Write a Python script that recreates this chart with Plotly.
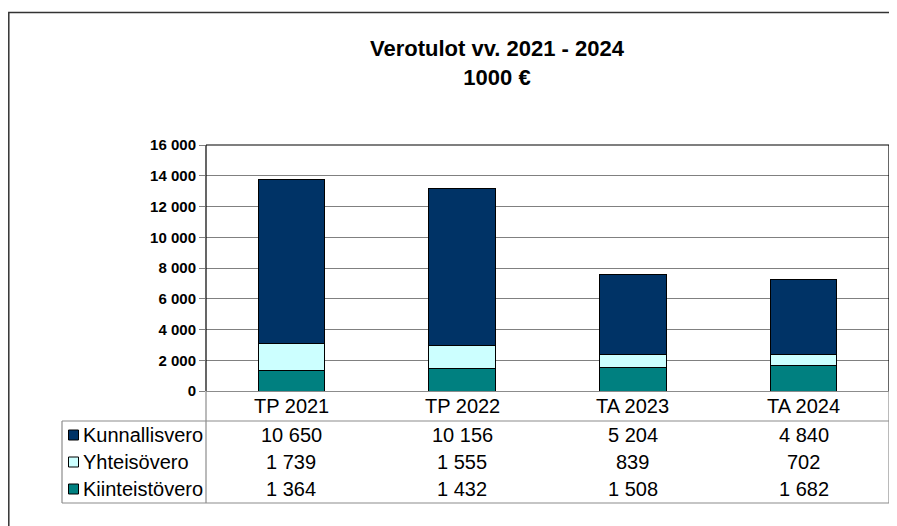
"""Verotulot vv. 2021 - 2024 — pinottu pylväs + taulukko."""

import plotly.graph_objects as go

categories = ["TP 2021", "TP 2022", "TA 2023", "TA 2024"]
kunnallisvero = [10650, 10156, 5204, 4840]
yhteisovero = [1739, 1555, 839, 702]
kiinteistovero = [1364, 1432, 1508, 1682]

series = [
    ("Kiinteistövero", kiinteistovero, "#008080"),
    ("Yhteisövero", yhteisovero, "#CCFFFF"),
    ("Kunnallisvero", kunnallisvero, "#003366"),
]
table_rows = ["Kunnallisvero", "Yhteisövero", "Kiinteistövero"]

# page body has an 8px margin, so figure is drawn 8px smaller
OFF = 8
W, H = 897 - OFF, 526 - OFF
L, R, T, B = 206 - OFF, 889 - OFF, 145 - OFF, 391 - OFF  # plot area (figure px)
FONT = "Liberation Sans, Arial, sans-serif"


def px(x):
    """window x pixel -> paper"""
    return (x - OFF - L) / (R - L)


def py(y):
    """window y pixel -> paper"""
    return (B - (y - OFF)) / (B - T)


def fmt(v):
    return f"{v:,}".replace(",", " ")


fig = go.Figure()
for name, vals, color in series:
    fig.add_trace(
        go.Bar(
            x=categories,
            y=vals,
            name=name,
            marker=dict(color=color, line=dict(color="#000000", width=1)),
            width=0.39,
            showlegend=False,
        )
    )

shapes = []
annotations = []

# outer frame
shapes.append(dict(type="rect", xref="paper", yref="paper",
                   x0=px(8.8), x1=px(920), y0=py(12.5), y1=py(560),
                   line=dict(color="#333333", width=1.5)))
# plot area frame
for x0, x1, y0, y1 in [(0, 1, 1, 1), (1, 1, 0, 1), (0, 0, 0, 1)]:
    shapes.append(dict(type="line", xref="paper", yref="paper",
                       x0=x0, x1=x1, y0=y0, y1=y1,
                       line=dict(color="#000000", width=1.2)))

# data table lines
grey = "#8c8c8c"
for x0, x1, y0, y1 in [
    (px(62), 1, py(421), py(421)),
    (px(62), 1, py(503), py(503)),
    (px(62), px(62), py(421), py(503)),
    (0, 0, 0, py(503)),
    (1, 1, 0, py(503)),
]:
    shapes.append(dict(type="line", xref="paper", yref="paper",
                       x0=x0, x1=x1, y0=y0, y1=y1, line=dict(color=grey, width=1.2)))

row_y = [435, 462, 489]
colors = {name: color for name, _, color in series}
values = {"Kunnallisvero": kunnallisvero, "Yhteisövero": yhteisovero,
          "Kiinteistövero": kiinteistovero}
tfont = dict(size=20, color="#000000", family=FONT)

for cat in categories:
    annotations.append(dict(x=cat, xref="x", y=py(406), yref="paper", text=cat,
                            yanchor="middle", showarrow=False, font=tfont))

for name, yy in zip(table_rows, row_y):
    shapes.append(dict(type="rect", xref="paper", yref="paper",
                       x0=px(68.5), x1=px(78.5), y0=py(yy - 5), y1=py(yy + 5),
                       fillcolor=colors[name], line=dict(color="#000000", width=1)))
    annotations.append(dict(x=px(81), xref="paper", y=py(yy), yref="paper", text=name,
                            xanchor="left", yanchor="middle", showarrow=False, font=tfont))
    for cat, v in zip(categories, values[name]):
        annotations.append(dict(x=cat, xref="x", y=py(yy), yref="paper", text=fmt(v),
                                yanchor="middle", showarrow=False, font=tfont))

annotations.append(dict(x=px(497), xref="paper", y=py(63), yref="paper",
                        text="<b>Verotulot vv. 2021 - 2024</b><br><b>1000 €</b>",
                        xanchor="center", yanchor="middle",
                        showarrow=False, align="center",
                        font=dict(size=22, color="#000000", family=FONT)))

fig.update_layout(
    width=W,
    height=H,
    barmode="stack",
    margin=dict(l=L, r=W - R, t=T, b=H - B),
    plot_bgcolor="#ffffff",
    paper_bgcolor="#ffffff",
    separators=", ",
    font=dict(family=FONT, color="#000000"),
    shapes=shapes,
    annotations=annotations,
)
fig.update_xaxes(showticklabels=False, showgrid=False, showline=True,
                 linecolor=grey, linewidth=1.2, ticks="")
fig.update_yaxes(range=[0, 16000], dtick=2000, tickformat=",d",
                 showgrid=True, gridcolor="#808080", gridwidth=1,
                 zeroline=False, showline=False, ticks="outside", ticklen=6,
                 tickcolor="#808080",
                 tickfont=dict(size=15, family=FONT, color="#000000", weight="bold"))

fig.write_html("out.html")
